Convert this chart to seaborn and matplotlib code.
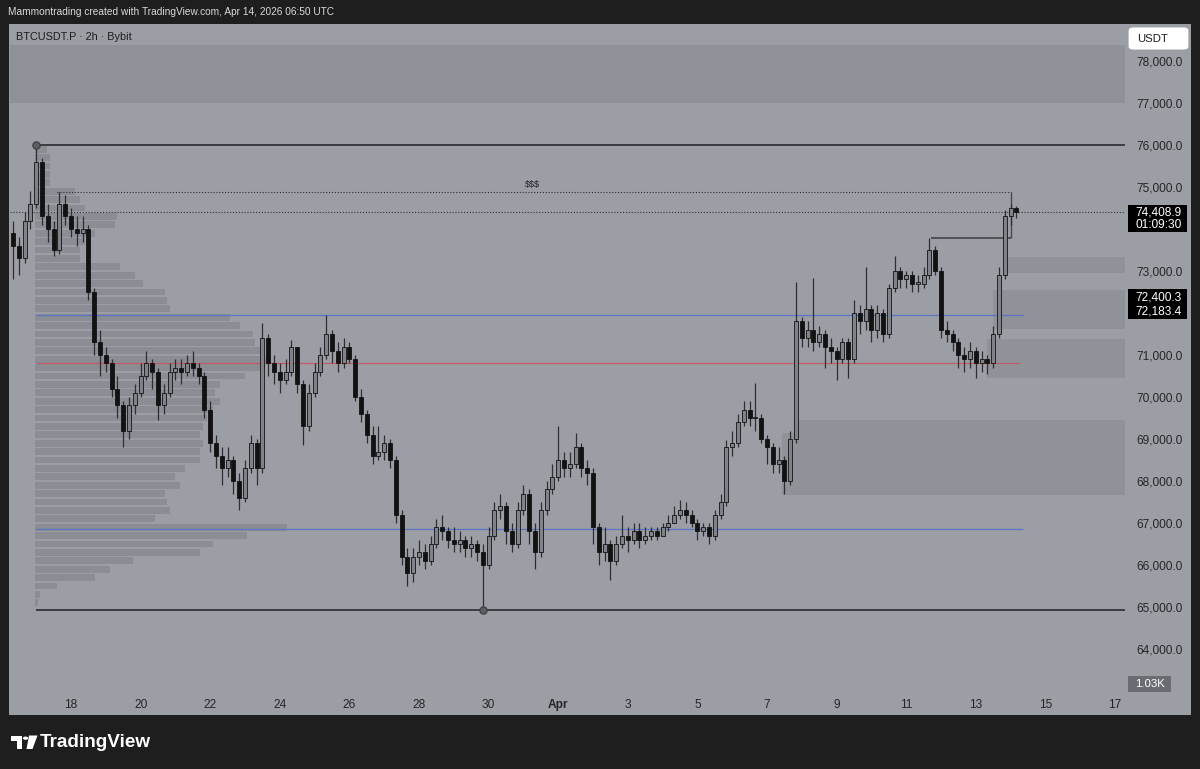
import numpy as np
import pandas as pd
import matplotlib
matplotlib.use("Agg")
import matplotlib.pyplot as plt
from matplotlib.patches import Rectangle, FancyBboxPatch, Polygon, Circle
import seaborn as sns

# ---------------- data (BTCUSDT.P, 4h bars) ----------------
first_open = 73900
closes = [73600, 73300, 74200, 74600, 75600, 74300, 74000, 73500, 74600, 74300,
          74000, 73900, 74000, 72500, 71300, 71000, 70800, 70200, 69800, 69200,
          69800, 70100, 70500, 70800, 70600, 69800, 70100, 70600, 70700, 70600,
          70800, 70700, 70500, 69700, 68900, 68600, 68300, 68500, 68000, 67600,
          68300, 68900, 68300, 71400, 70800, 70600, 70400, 70600, 71200, 70300,
          69300, 70100, 70600, 71000, 71500, 71100, 70800, 71200, 70900, 70000,
          69600, 69100, 68600, 68700, 68900, 68500, 67200, 66200, 65800, 66200,
          66300, 66100, 66500, 66900, 66800, 66600, 66500, 66600, 66400, 66500,
          66300, 66000, 66700, 67300, 67400, 66800, 66500, 67300, 67700, 66800,
          66300, 67300, 67800, 68100, 68500, 68300, 68400, 68800, 68300, 68200,
          66900, 66300, 66500, 66100, 66500, 66700, 66600, 66800, 66600, 66700,
          66800, 66700, 66900, 67000, 67200, 67300, 67200, 67000, 66800, 66900,
          66700, 67200, 67500, 68800, 68900, 69400, 69700, 69500, 69500, 69000,
          68800, 68400, 68500, 68000, 69000, 71800, 71400, 71600, 71300, 71500,
          71200, 71100, 70900, 71300, 70900, 72000, 71800, 72100, 71600, 72000,
          71500, 72600, 73000, 72800, 72900, 72700, 72700, 72900, 73500, 73000,
          71600, 71500, 71300, 71000, 70900, 71100, 70800, 70900, 70800, 71500,
          72900, 74300, 74500, 74409]
highs = [74200, 73800, 74400, 74900, 76050, 75700, 74600, 74200, 74880, 74800,
         74500, 74300, 74300, 74100, 72600, 71600, 71200, 70900, 70500, 69900,
         70000, 70300, 70800, 71100, 70900, 70700, 70300, 70800, 70900, 70900,
         71000, 71100, 70800, 70600, 69900, 69100, 68800, 68800, 68600, 68200,
         68500, 69100, 69000, 71760, 71500, 71000, 70800, 70900, 71350, 71200,
         70400, 70300, 70800, 71200, 71950, 71600, 71300, 71400, 71300, 71000,
         70200, 69700, 69300, 69300, 69100, 69000, 68600, 67300, 66400, 66400,
         66600, 66500, 66700, 67100, 67200, 66900, 66900, 66800, 66700, 66700,
         66600, 66500, 66900, 67500, 67700, 67500, 67000, 67500, 67900, 67800,
         67000, 67500, 68000, 68400, 69300, 68700, 68700, 69140, 68900, 68500,
         68300, 67000, 66900, 66600, 66700, 67200, 66900, 67000, 67000, 66900,
         66900, 66900, 67000, 67200, 67400, 67550, 67500, 67300, 67100, 67000,
         67000, 67300, 67700, 68980, 69200, 69600, 69900, 69900, 70330, 69600,
         69100, 68900, 68800, 68600, 69200, 72740, 71900, 71800, 72830, 71700,
         71600, 71400, 71200, 71400, 71400, 72300, 72200, 73100, 72200, 72200,
         72100, 72700, 73350, 73100, 73000, 73000, 72900, 73100, 73780, 73600,
         73100, 71800, 71600, 71400, 71200, 71300, 71200, 71100, 71000, 71700,
         73100, 74450, 74600, 74550]
lows = [72800, 72900, 73200, 74000, 74500, 74100, 73700, 73350, 73400, 74100,
        73800, 73600, 73700, 72300, 71000, 70500, 70600, 70000, 69500, 68800,
        69000, 69600, 70000, 70400, 70200, 69450, 69600, 70000, 70400, 70300,
        70500, 70500, 70300, 69500, 68700, 68300, 67900, 68100, 67700, 67300,
        67500, 68200, 67900, 68200, 70500, 70300, 70100, 70300, 70500, 70100,
        68860, 69200, 70000, 70500, 70900, 70800, 70600, 70700, 70800, 69900,
        69400, 68900, 68400, 68500, 68500, 68300, 67000, 66000, 65500, 65600,
        66000, 65900, 66000, 66400, 66600, 66400, 66300, 66300, 66200, 66200,
        66100, 64920, 65900, 66600, 67100, 66500, 66300, 66400, 67200, 66500,
        65900, 66200, 67200, 67700, 68000, 68100, 68100, 68300, 68100, 67900,
        66500, 66000, 66100, 65650, 66000, 66400, 66300, 66500, 66400, 66500,
        66600, 66600, 66700, 66800, 67000, 67100, 67000, 66900, 66600, 66700,
        66500, 66600, 67100, 67400, 68600, 68800, 69300, 69300, 69200, 68900,
        68400, 68200, 68200, 67700, 67900, 68900, 71200, 71200, 71100, 71200,
        70700, 70800, 70400, 70800, 70450, 70800, 71500, 71600, 71300, 71400,
        71300, 71400, 72500, 72600, 72600, 72500, 72500, 72600, 72800, 72900,
        71400, 71300, 71100, 70700, 70600, 70700, 70450, 70600, 70550, 70700,
        71400, 72800, 74100, 74250]
start_day = 16 + 8 / 24          # Mar 16, 08:00 (day-of-March axis, Apr 1 = 32)
bar_hours = 4

# volume profile (price level, relative volume)
vp_prices = [75900, 75700, 75500, 75300, 75100, 74900, 74700, 74500, 74300, 74100,
             73900, 73700, 73500, 73300, 73100, 72900, 72700, 72500, 72300, 72100,
             71900, 71700, 71500, 71300, 71100, 70900, 70700, 70500, 70300, 70100,
             69900, 69700, 69500, 69300, 69100, 68900, 68700, 68500, 68300, 68100,
             67900, 67700, 67500, 67300, 67100, 66900, 66700, 66500, 66300, 66100,
             65900, 65700, 65500, 65300, 65100]
vp_volume = [12, 15, 15, 15, 15, 40, 45, 50, 82, 80,
             60, 50, 45, 45, 85, 100, 108, 130, 132, 135,
             195, 205, 218, 220, 230, 232, 228, 210, 185, 180,
             185, 178, 172, 168, 165, 168, 165, 165, 150, 140,
             145, 130, 132, 135, 120, 252, 212, 178, 165, 98,
             75, 60, 22, 5, 3]

# levels / zones
level_high = 76000
level_low = 64920
liq_level = 74880          # "$$$"
swing_level = 73790
last_price = 74408.9
blue_hi = 71950
red_mid = 70810
blue_lo = 66860
zones = [  # (start_day, low, high)
    (44.84, 72950, 73330),
    (44.49, 71620, 72550),
    (44.32, 70450, 71380),
    (38.86, 67670, 69450),
    (38.43, 67670, 69140),
]
price_ticks = list(range(64000, 78001, 1000))
hidden_ticks = [72000, 74000]      # covered by the price-label boxes
date_ticks = [18, 20, 22, 24, 26, 28, 30, 32, 34, 36, 38, 40, 42, 44, 46, 48]
date_labels = ["18", "20", "22", "24", "26", "28", "30", "Apr", "3", "5", "7",
               "9", "11", "13", "15", "17"]

# ---------------- style ----------------
OUTER = "#1e1e1f"
BG = "#9c9ea6"
BOX = "#8f9199"
VPC = "#8b8d95"
UPF = "#808289"
DN = "#121212"
WICK = "#2e2e30"
TXT = "#262626"

sns.set_theme(style="white")
plt.rcParams['font.family'] = ['Liberation Sans', 'DejaVu Sans']

W, H = 1200, 769
fig = plt.figure(figsize=(12, 7.69), dpi=100, facecolor=OUTER)


def fx(x):
    return x / W


def fy(y):
    return 1 - y / H


fig.patches.append(Rectangle((fx(9), fy(715)), (1191 - 9) / W, (715 - 24) / H,
                             transform=fig.transFigure, fc=BG, ec='none', zorder=-10))

ax = fig.add_axes([fx(10), fy(692), 1115 / W, (692 - 24) / H])
ax.set_facecolor('none')
for s in ax.spines.values():
    s.set_visible(False)
XMIN, XMAX = 16.247, 48.287
ax.set_xlim(XMIN, XMAX)
ax.set_ylim(62976, 78881)

# zones
for x0, lo, hi in zones:
    ax.add_patch(Rectangle((x0, lo), XMAX - x0, hi - lo, fc=BOX, ec='none', zorder=0.5, alpha=0.85))
ax.add_patch(Rectangle((XMIN, 77000), XMAX - XMIN, 1380, fc=BOX, ec='none', zorder=0.5))

# volume profile
vp_left = 16.966
vp_scale = (252 / 34.8) / max(vp_volume)
ax.barh(vp_prices, np.array(vp_volume) * vp_scale, left=vp_left, height=160,
        color=VPC, lw=0, zorder=1)

# levels
ax.hlines(level_high, 17.0, XMAX, color="#3b3c40", lw=1.4, zorder=2)
ax.hlines(level_low, 17.0, XMAX, color="#3b3c40", lw=1.4, zorder=2)
ax.hlines(blue_hi, 17.0, 45.36, color="#5a74c4", lw=0.9, zorder=2)
ax.hlines(blue_lo, 17.0, 45.36, color="#5a74c4", lw=0.9, zorder=2)
ax.hlines(red_mid, 17.0, 45.27, color="#c45a63", lw=0.9, zorder=2)
ax.hlines(last_price, XMIN, XMAX, color="#2f2f31", lw=0.8, linestyles=(0, (1, 1.6)), zorder=2)
ax.hlines(liq_level, 17.6, 45.0, color="#2f2f31", lw=0.8, linestyles=(0, (1, 1.6)), zorder=2)
ax.vlines(45.0, swing_level, liq_level, color="#4a4b4f", lw=1.0, zorder=2)
ax.hlines(swing_level, 42.71, 45.0, color="#4a4b4f", lw=1.3, zorder=2)
ax.text(31.25, 75071, "$$$", fontsize=6.5, ha='center', va='center', color="#222")

# candles
closes_a = np.array(closes, float)
opens_a = np.array([first_open] + closes[:-1], float)
highs_a = np.array(highs, float)
lows_a = np.array(lows, float)
t = start_day + np.arange(len(closes)) * bar_hours / 24
up = closes_a >= opens_a
ax.vlines(t, lows_a, highs_a, color=WICK, lw=0.9, zorder=3)
bw = 0.115
ax.bar(t[up], np.maximum(closes_a[up] - opens_a[up], 30), bottom=opens_a[up], width=bw,
       color=UPF, edgecolor=DN, lw=0.6, zorder=4)
ax.bar(t[~up], np.maximum(opens_a[~up] - closes_a[~up], 30), bottom=closes_a[~up], width=bw,
       color=DN, edgecolor=DN, lw=0.6, zorder=4)

# anchor circles
sns.scatterplot(x=[17.0, 29.83], y=[level_high, level_low], ax=ax, s=28,
                color="#5c5d62", edgecolor="#3b3c40", linewidth=0.8, zorder=5, legend=False)

# axes ticks
ax.yaxis.tick_right()
ax.set_yticks(price_ticks)
ax.set_yticklabels(["" if p in hidden_ticks else f"{p:,.0f}.0" for p in price_ticks])
ax.tick_params(axis='y', length=0, pad=8, labelsize=8.6, labelcolor=TXT)
ax.set_xticks(date_ticks)
ax.set_xticklabels(date_labels)
ax.tick_params(axis='x', length=0, pad=5, labelsize=8.6, labelcolor=TXT)
for lab in ax.get_xticklabels():
    if lab.get_text() == "Apr":
        lab.set_fontweight('bold')
ax.set_xlabel("")
ax.set_ylabel("")
ax.grid(False)

# header texts
fig.text(fx(8), fy(12), "Mammontrading created with TradingView.com, Apr 14, 2026 06:50 UTC",
         color="#dadada", fontsize=7.3, va='center', ha='left')
fig.text(fx(16), fy(37), "BTCUSDT.P · 2h · Bybit", color="#1c1c1c", fontsize=7.8,
         va='center', ha='left')

# right-scale labels
fig.patches.append(FancyBboxPatch((fx(1131), fy(48)), (1186 - 1131) / W, (48 - 29) / H,
                                  boxstyle="round,pad=0.002,rounding_size=0.004",
                                  transform=fig.transFigure, fc="white", ec="none", zorder=10))
fig.text(fx(1153), fy(38.5), "USDT", color="#1c1c1c", fontsize=8.2, ha='center', va='center', zorder=11)


def black_box(y0, y1, lines_):
    fig.patches.append(Rectangle((fx(1128), fy(y1)), (1187 - 1128) / W, (y1 - y0) / H,
                                 transform=fig.transFigure, fc="#000000", ec='none', zorder=10))
    for yy, s in lines_:
        fig.text(fx(1135), fy(yy), s, color="white", fontsize=8.6, ha='left', va='center', zorder=11)


black_box(205, 232, [(212.5, "74,408.9"), (225, "01:09:30")])
black_box(289, 319, [(297, "72,400.3"), (311.5, "72,183.4")])

fig.patches.append(Rectangle((fx(1128), fy(692)), (1171 - 1128) / W, (692 - 676) / H,
                             transform=fig.transFigure, fc="#6a6c72", ec='none', zorder=10))
fig.text(fx(1149.5), fy(684), "1.03K", color="white", fontsize=8.2, ha='center', va='center', zorder=11)


# TradingView logo
def poly(pts, **kw):
    fig.patches.append(Polygon([(fx(a), fy(b)) for a, b in pts], closed=True,
                               transform=fig.transFigure, **kw))


poly([(11, 735.5), (21.5, 735.5), (21.5, 749), (16.5, 749), (16.5, 740.5), (11, 740.5)],
     fc="white", ec='none', zorder=10)
fig.patches.append(Circle((fx(25.5), fy(738.2)), 2.6 / W, transform=fig.transFigure,
                          fc="white", ec='none', zorder=10))
poly([(29, 735.5), (37.5, 735.5), (32.5, 749), (26.5, 749)], fc="white", ec='none', zorder=10)
fig.text(fx(40), fy(742.5), "TradingView", color="white", fontsize=13.6, fontweight='bold',
         ha='left', va='center')

fig.savefig("out.png", dpi=100, facecolor=OUTER)
